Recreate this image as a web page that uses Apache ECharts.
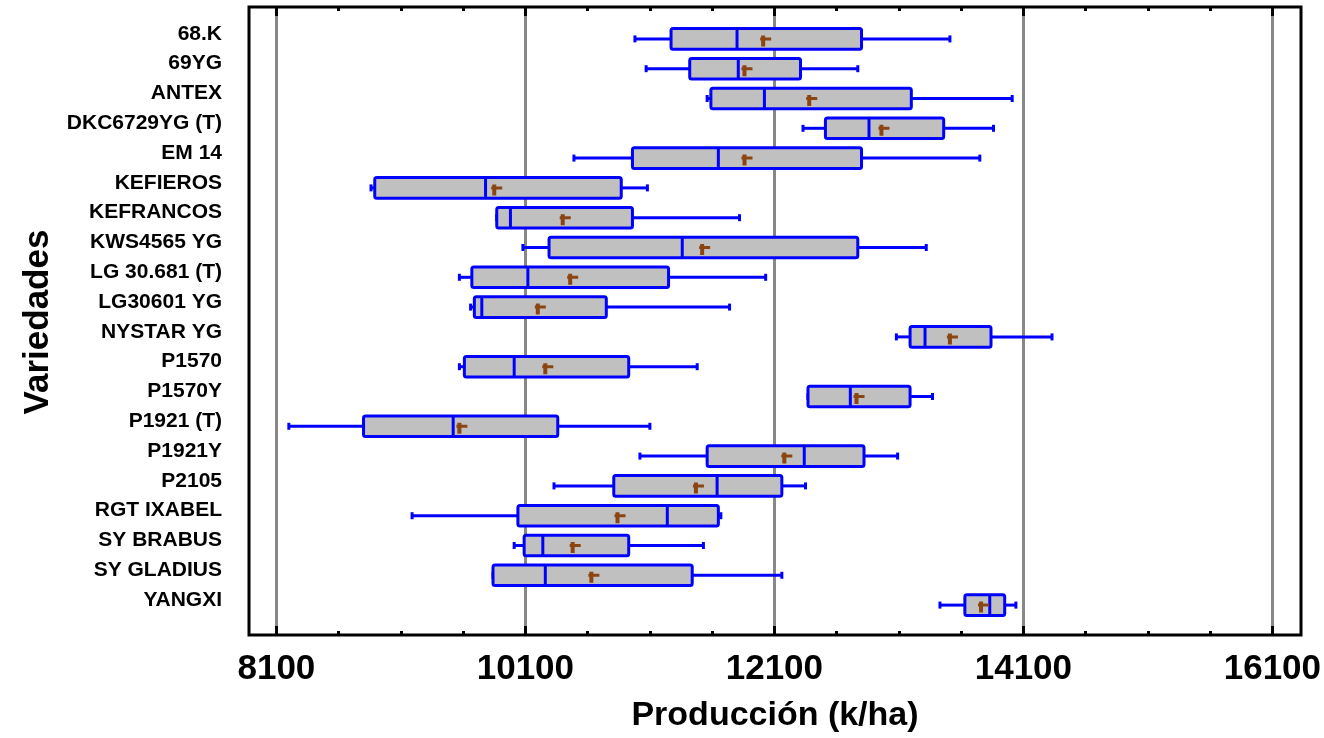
<!DOCTYPE html>
<html>
<head>
<meta charset="utf-8">
<title>Producción por variedad</title>
<script src="https://cdn.jsdelivr.net/npm/echarts@6/dist/echarts.min.js"></script>
<style>
  html, body { margin: 0; padding: 0; background: #fff; }
  #chart { width: 1324px; height: 738px; }
</style>
</head>
<body>
<div id="chart"></div>
<script>
// varieties, top to bottom
var categories = ['68.K', '69YG', 'ANTEX', 'DKC6729YG (T)', 'EM 14', 'KEFIEROS', 'KEFRANCOS',
  'KWS4565 YG', 'LG 30.681 (T)', 'LG30601 YG', 'NYSTAR YG', 'P1570', 'P1570Y', 'P1921 (T)',
  'P1921Y', 'P2105', 'RGT IXABEL', 'SY BRABUS', 'SY GLADIUS', 'YANGXI'];

// box plot statistics (k/ha)
var whiskerLow  = [10980, 11070, 11560, 12330, 10490, 8860, 9870, 10080, 9570, 9660, 13080, 9570, 12370, 8200, 11020, 10330, 9190, 10010, 9840, 13430];
var q1          = [11270, 11420, 11590, 12510, 10960, 8890, 9870, 10290, 9670, 9690, 13190, 9610, 12370, 8800, 11560, 10810, 10040, 10090, 9840, 13630];
var median      = [11800, 11810, 12020, 12860, 11650, 9780, 9980, 11360, 10120, 9750, 13310, 10010, 12710, 9520, 12340, 11640, 11240, 10240, 10260, 13830];
var q3          = [12800, 12310, 13200, 13460, 12800, 10870, 10960, 12770, 11250, 10750, 13840, 10930, 13190, 10360, 12820, 12160, 11650, 10930, 11440, 13950];
var whiskerHigh = [13510, 12770, 14010, 13860, 13750, 11080, 11820, 13320, 12030, 11740, 14330, 11480, 13370, 11100, 13090, 12350, 11670, 11530, 12160, 14040];
var means       = [12030, 11880, 12400, 12980, 11880, 9870, 10420, 11540, 10480, 10220, 13530, 10280, 12780, 9590, 12200, 11490, 10860, 10500, 10650, 13780];

var majorTicks = [8100, 10100, 12100, 14100, 16100];
var minorTicks = [8600, 9100, 9600, 10600, 11100, 11600, 12600, 13100, 13600, 14600, 15100, 15600];

var X_MIN = 7880, X_MAX = 16330;
var FONT = '"Liberation Sans", Arial, sans-serif';

var boxData = categories.map(function (c, i) {
  return [i, whiskerLow[i], q1[i], median[i], q3[i], whiskerHigh[i]];
});
var meanData = categories.map(function (c, i) {
  return [means[i], i];
});

function renderBox(params, api) {
  var idx = api.value(0);
  var pLow = api.coord([api.value(1), idx]);
  var pQ1 = api.coord([api.value(2), idx]);
  var pMed = api.coord([api.value(3), idx]);
  var pQ3 = api.coord([api.value(4), idx]);
  var pHigh = api.coord([api.value(5), idx]);
  var band = api.size([0, 1])[1];
  var h = band * 0.69;
  var cy = pMed[1];
  var blue = '#0000ff';
  var lineStyle = { stroke: blue, lineWidth: 3 };
  return {
    type: 'group',
    children: [
      { type: 'line', shape: { x1: pLow[0], y1: cy, x2: pQ1[0], y2: cy }, style: lineStyle },
      { type: 'line', shape: { x1: pQ3[0], y1: cy, x2: pHigh[0], y2: cy }, style: lineStyle },
      { type: 'rect', shape: { x: pLow[0] - 1.5, y: cy - 3.5, width: 3, height: 7 }, style: { fill: blue } },
      { type: 'rect', shape: { x: pHigh[0] - 1.5, y: cy - 3.5, width: 3, height: 7 }, style: { fill: blue } },
      { type: 'rect', shape: { x: pQ1[0], y: cy - h / 2, width: pQ3[0] - pQ1[0], height: h, r: 2 },
        style: { fill: '#c0c0c0', stroke: blue, lineWidth: 3 } },
      { type: 'line', shape: { x1: pMed[0], y1: cy - h / 2, x2: pMed[0], y2: cy + h / 2 }, style: lineStyle }
    ]
  };
}

function plain(v) {
  return String(v);
}

var myChart = echarts.init(document.getElementById('chart'));
myChart.setOption({
  backgroundColor: '#fff',
  animation: false,
  grid: [
    { left: 249, top: 7, width: 1052, height: 628, outerBoundsMode: 'none', show: true,
      borderColor: '#000', borderWidth: 3, backgroundColor: 'transparent' },
    { left: 249, top: 24, width: 1052, height: 596, outerBoundsMode: 'none' }
  ],
  xAxis: [
    {
      gridIndex: 0, type: 'value', position: 'bottom', min: X_MIN, max: X_MAX,
      axisLine: { show: false },
      axisTick: { show: true, inside: true, length: 9, customValues: majorTicks, lineStyle: { color: '#000', width: 3 } },
      axisLabel: { show: true, customValues: majorTicks, formatter: plain, margin: 17, color: '#000',
        fontSize: 35, fontWeight: 'bold', fontFamily: FONT },
      splitLine: { show: true, lineStyle: { color: '#888', width: 3 } },
      name: 'Producción (k/ha)', nameLocation: 'middle', nameGap: 64,
      nameTextStyle: { color: '#000', fontSize: 34, fontWeight: 'bold', fontFamily: FONT }
    },
    {
      gridIndex: 0, type: 'value', position: 'bottom', min: X_MIN, max: X_MAX,
      axisLine: { show: false },
      axisTick: { show: true, inside: true, length: 4, customValues: minorTicks, lineStyle: { color: '#000', width: 3 } },
      axisLabel: { show: false }, splitLine: { show: false }
    },
    {
      gridIndex: 0, type: 'value', position: 'top', min: X_MIN, max: X_MAX,
      axisLine: { show: false },
      axisTick: { show: true, inside: true, length: 9, customValues: majorTicks, lineStyle: { color: '#000', width: 3 } },
      axisLabel: { show: false }, splitLine: { show: false }
    },
    {
      gridIndex: 0, type: 'value', position: 'top', min: X_MIN, max: X_MAX,
      axisLine: { show: false },
      axisTick: { show: true, inside: true, length: 4, customValues: minorTicks, lineStyle: { color: '#000', width: 3 } },
      axisLabel: { show: false }, splitLine: { show: false }
    },
    {
      gridIndex: 1, type: 'value', min: X_MIN, max: X_MAX, show: false
    }
  ],
  yAxis: [
    {
      gridIndex: 0, type: 'value', min: 0, max: 1, show: false
    },
    {
      gridIndex: 1, type: 'category', data: categories, inverse: true,
      axisLine: { show: false }, axisTick: { show: false }, splitLine: { show: false },
      axisLabel: {
        interval: 0, margin: 27, color: '#000', fontSize: 21, fontWeight: 'bold', fontFamily: FONT,
        verticalAlign: 'bottom', lineHeight: 10
      },
      name: 'Variedades', nameLocation: 'middle', nameRotate: 90, nameGap: 192,
      nameTextStyle: { color: '#000', fontSize: 35, fontWeight: 'bold', fontFamily: FONT }
    }
  ],
  series: [
    {
      type: 'custom', xAxisIndex: 4, yAxisIndex: 1,
      renderItem: renderBox,
      encode: { x: [1, 2, 3, 4, 5], y: 0 },
      data: boxData
    },
    {
      type: 'scatter', xAxisIndex: 4, yAxisIndex: 1,
      symbol: 'path://M1,0 H5 V2 H11 V5 H5 V11 H1 V5 H0 V2 H1 Z',
      symbolSize: 11, symbolOffset: [0, 2],
      itemStyle: { color: '#8b4513', opacity: 1 },
      z: 5,
      data: meanData
    }
  ]
});
</script>
</body>
</html>
